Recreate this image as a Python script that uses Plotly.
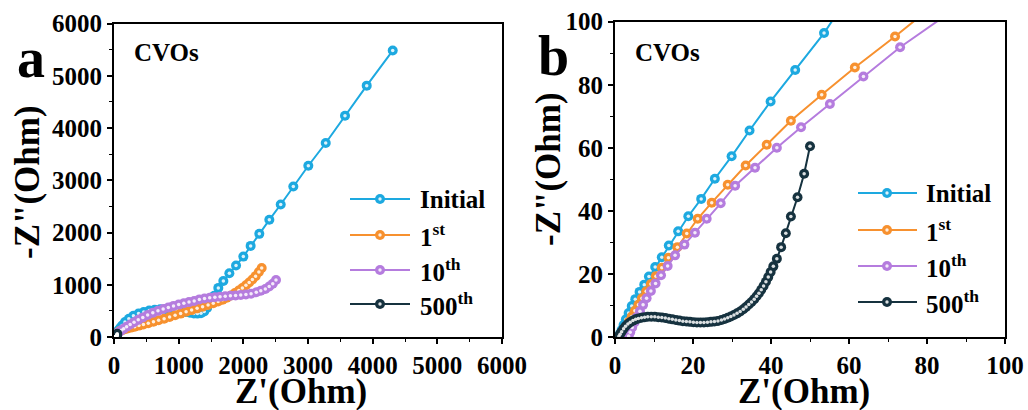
import plotly.graph_objects as go

W, H = 1028, 410

series_names = ["Initial", "1<sup>st</sup>", "10<sup>th</sup>", "500<sup>th</sup>"]
series_colors = ["#1DA9E0", "#F7912F", "#B57CDE", "#16323F"]

# ---- high-frequency region (visible in panel b) ----
init_hf_x = [1.0, 1.3, 1.7, 2.2, 2.8, 3.5, 4.3, 5.2, 6.3, 7.5, 8.7, 10.3, 12.0, 13.8, 16.2, 18.8,
             22.1, 25.6, 29.9, 34.5, 39.9, 46.2, 53.6]
init_hf_y = [0.2, 1.0, 2.2, 3.8, 5.6, 7.6, 9.8, 12.0, 14.3, 16.6, 19.2, 22.2, 25.3, 29.0, 33.5, 38.3,
             43.8, 50.2, 57.3, 65.5, 74.7, 84.7, 96.4]

first_hf_x = [1.8, 2.1, 2.5, 3.0, 3.6, 4.3, 5.1, 6.0, 6.9, 8.0, 9.2, 10.5, 12.0, 13.7, 16.0, 18.4,
              21.2, 24.8, 28.9, 33.5, 38.9, 45.1, 53.0, 61.5, 71.8]
first_hf_y = [0.2, 1.0, 2.1, 3.4, 4.9, 6.5, 8.3, 10.2, 12.3, 14.5, 16.8, 19.3, 22.0, 25.1, 28.5, 32.8,
              37.5, 42.6, 48.3, 54.4, 61.0, 68.6, 76.8, 85.5, 95.3]

tenth_hf_x = [3.5, 3.9, 4.4, 5.0, 5.6, 6.4, 7.2, 8.1, 9.2, 10.4, 11.8, 13.5, 15.4, 17.8, 20.5, 23.5,
              27.1, 30.8, 35.9, 41.5, 47.7, 55.1, 63.7, 73.1]
tenth_hf_y = [0.3, 1.5, 3.0, 4.6, 6.3, 8.2, 10.2, 12.3, 14.6, 17.0, 19.6, 22.5, 25.9, 29.3, 33.1, 37.5,
              42.4, 48.0, 53.7, 60.0, 66.5, 73.9, 82.6, 91.9]

c500_x = [1.0, 1.3, 1.7, 2.2, 2.7, 3.3, 3.9, 4.6, 5.3, 6.0, 6.8, 7.6, 8.4, 9.3, 10.2, 11.1, 12.0,
          12.9, 13.8, 14.7, 15.6, 16.5, 17.4, 18.3, 19.2, 20.1, 21.0, 21.9, 22.8, 23.7, 24.6, 25.5,
          26.4, 27.3, 28.1, 28.9, 29.7, 30.5, 31.3, 32.1, 32.9, 33.6, 34.3, 35.0, 35.7, 36.3, 36.9,
          37.5, 38.1, 38.7, 39.3, 39.9, 40.6, 41.5, 42.6, 43.8, 45.1, 46.8, 48.5, 50.0]
c500_y = [0.2, 0.9, 1.7, 2.6, 3.4, 4.1, 4.7, 5.2, 5.6, 5.9, 6.1, 6.3, 6.4, 6.4, 6.4, 6.3, 6.2,
          6.0, 5.8, 5.6, 5.4, 5.2, 5.0, 4.9, 4.8, 4.7, 4.6, 4.6, 4.6, 4.7, 4.8, 4.9,
          5.1, 5.4, 5.7, 6.1, 6.5, 7.0, 7.5, 8.1, 8.8, 9.5, 10.3, 11.1, 12.0, 12.9, 13.9,
          15.0, 16.2, 17.5, 19.0, 20.6, 22.4, 24.8, 28.5, 32.9, 38.2, 44.3, 51.8, 60.5]

# ---- low-frequency region (visible in panel a) ----
init_lf_x = [62, 75, 95, 125, 170, 230, 300, 380, 460, 545, 630, 715, 800, 885, 965, 1040, 1110,
             1175, 1235, 1290, 1345, 1395, 1440, 1490, 1550, 1613, 1691, 1784, 1887, 2000, 2113,
             2247, 2402, 2578, 2773, 3005, 3274, 3572, 3908, 4310]
init_lf_y = [112, 135, 170, 220, 285, 350, 405, 448, 480, 505, 522, 532, 535, 528, 513, 495, 478,
             463, 452, 448, 455, 490, 555, 660, 790, 940, 1073, 1221, 1367, 1539, 1744,
             1974, 2243, 2536, 2881, 3278, 3713, 4236, 4811, 5482]

first_lf_x = [85, 105, 130, 165, 210, 260, 320, 385, 455, 530, 610, 690, 775, 860, 945, 1030, 1115,
              1200, 1285, 1370, 1455, 1535, 1610, 1680, 1745, 1810, 1870, 1930, 1985, 2040, 2090,
              2140, 2190, 2240, 2284]
first_lf_y = [108.5, 122, 135, 148, 163, 180, 198, 218, 240, 265, 292, 320, 350, 382, 415, 448, 482,
              515, 548, 580, 613, 645, 680, 715, 752, 795, 840, 888, 938, 990, 1043,
              1100, 1165, 1245, 1320]

tenth_lf_x = [90, 115, 150, 195, 250, 310, 375, 445, 520, 600, 680, 760, 840, 920, 1000, 1080, 1160,
              1240, 1320, 1400, 1480, 1560, 1640, 1720, 1800, 1880, 1960, 2040, 2120, 2200, 2270,
              2340, 2400, 2455, 2505]
tenth_lf_y = [106.5, 128, 158, 195, 238, 283, 328, 375, 420, 462, 500, 535, 565, 595, 620, 645, 668,
              690, 720, 738, 752, 762, 772, 780, 788, 796, 805, 815, 830, 855, 885,
              920, 965, 1020, 1090]

series_x = [init_hf_x + init_lf_x, first_hf_x + first_lf_x, tenth_hf_x + tenth_lf_x, c500_x]
series_y = [init_hf_y + init_lf_y, first_hf_y + first_lf_y, tenth_hf_y + tenth_lf_y, c500_y]

panel_a_ticks = [0, 1000, 2000, 3000, 4000, 5000, 6000]
panel_b_ticks = [0, 20, 40, 60, 80, 100]

FONT = "'Liberation Serif', 'Times New Roman', Times, 'DejaVu Serif', serif"

fig = go.Figure()
for xa, ya in [("x", "y"), ("x2", "y2")]:
    for name, col, xs, ys in zip(series_names, series_colors, series_x, series_y):
        fig.add_trace(go.Scatter(x=xs, y=ys, xaxis=xa, yaxis=ya, mode="lines+markers",
                                 line=dict(color=col, width=2),
                                 marker=dict(color=col, size=10, line=dict(width=0)),
                                 showlegend=False, hoverinfo="skip"))
        fig.add_trace(go.Scatter(x=xs, y=ys, xaxis=xa, yaxis=ya, mode="markers",
                                 marker=dict(color="rgba(255,255,255,0.85)", size=3.5),
                                 showlegend=False, hoverinfo="skip"))


def px(x):
    return x / W


def py(y):
    return 1 - y / H


axis_common = dict(showgrid=False, zeroline=False, showline=True, linecolor="black", linewidth=1.8,
                   mirror=True, ticks="outside", ticklen=5, tickwidth=1.6, tickcolor="black",
                   automargin=False,
                   tickfont=dict(family=FONT, size=25, color="black", weight="bold"))

fig.update_layout(
    template="none",
    width=W, height=H, margin=dict(l=0, r=0, t=0, b=0, pad=0),
    paper_bgcolor="white", plot_bgcolor="white", showlegend=False,
    xaxis=dict(domain=[px(114), px(502)], range=[0, 6000], tickvals=panel_a_ticks,
               minor=dict(ticks="outside", ticklen=3, dtick=500, tickcolor="black", tickwidth=1.4),
               anchor="y", **axis_common),
    yaxis=dict(domain=[py(337), py(23.5)], range=[0, 6000], tickvals=panel_a_ticks,
               minor=dict(ticks="outside", ticklen=3, dtick=500, tickcolor="black", tickwidth=1.4),
               anchor="x", **axis_common),
    xaxis2=dict(domain=[px(615), px(1005)], range=[0, 100], tickvals=panel_b_ticks,
                minor=dict(ticks="outside", ticklen=3, dtick=10, tickcolor="black", tickwidth=1.4),
                anchor="y2", **axis_common),
    yaxis2=dict(domain=[py(337), py(21.7)], range=[0, 100], tickvals=panel_b_ticks,
                minor=dict(ticks="outside", ticklen=3, dtick=10, tickcolor="black", tickwidth=1.4),
                anchor="x2", **axis_common),
)

ann = []
shapes = []


def text(x, y, s, size, xanchor="center", yanchor="middle", angle=0):
    ann.append(dict(x=px(x), y=py(y), xref="paper", yref="paper", text=s, showarrow=False,
                    xanchor=xanchor, yanchor=yanchor, textangle=angle,
                    font=dict(family=FONT, size=size, color="black", weight="bold")))


# panel letters, sample label, axis titles
text(31, 58, "a", 56)
text(553, 56, "b", 56)
text(132, 52, "CVOs", 25, xanchor="left")
text(633, 52, "CVOs", 25, xanchor="left")
text(301, 391, "Z'(Ohm)", 35)
text(804, 391, "Z'(Ohm)", 35)
text(28, 182, "-Z\"(Ohm)", 35, angle=-90)
text(549, 169, "-Z\"(Ohm)", 35, angle=-90)

# legends
legend_specs = [(350, 410, 380, 418, [199, 235, 270, 304]),
                (858, 917, 887, 924, [193, 230, 266, 302])]
for x0, x1, cx, tx, rows in legend_specs:
    for name, col, ry in zip(series_names, series_colors, rows):
        shapes.append(dict(type="line", xref="paper", yref="paper", x0=px(x0), x1=px(x1),
                           y0=py(ry), y1=py(ry), line=dict(color=col, width=2)))
        shapes.append(dict(type="circle", xref="paper", yref="paper", x0=px(cx - 5), x1=px(cx + 5),
                           y0=py(ry + 5), y1=py(ry - 5), fillcolor=col, line=dict(width=0)))
        shapes.append(dict(type="circle", xref="paper", yref="paper", x0=px(cx - 1.7),
                           x1=px(cx + 1.7), y0=py(ry + 1.7), y1=py(ry - 1.7),
                           fillcolor="rgba(255,255,255,0.85)", line=dict(width=0)))
        text(tx, ry, name, 25, xanchor="left")

fig.update_layout(annotations=ann, shapes=shapes)
fig.write_html("out.html")
